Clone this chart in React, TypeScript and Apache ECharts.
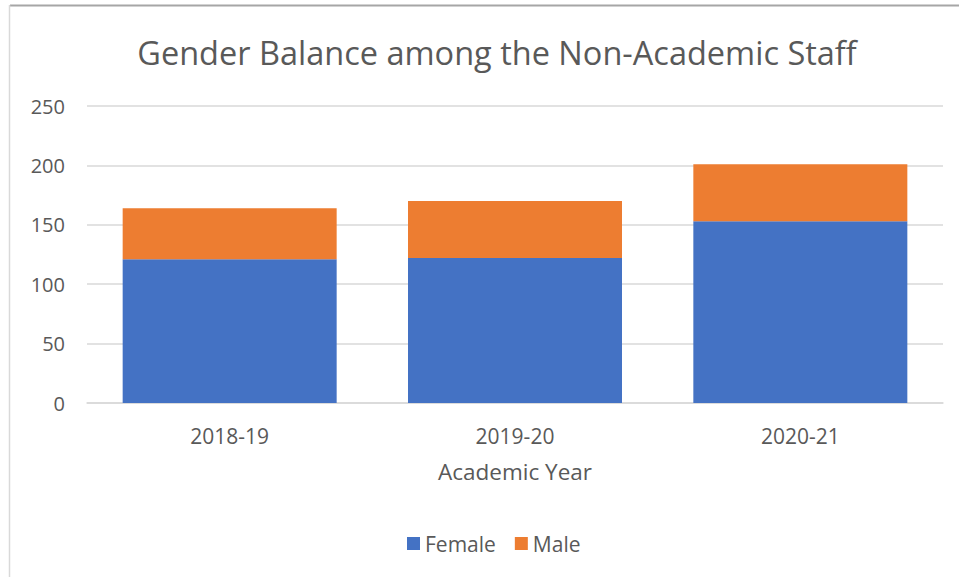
import React, { useEffect, useRef } from "react";
import * as echarts from "echarts";

const categories = ["2018-19", "2019-20", "2020-21"];
const femaleValues = [121, 122, 153];
const maleValues = [43, 48, 48];
const yTicks = { min: 0, max: 250, interval: 50 };

export default function App() {
  const ref = useRef<HTMLDivElement>(null);
  useEffect(() => {
    if (!ref.current) return;
    const chart = echarts.init(ref.current, null, { renderer: "svg" });
    const font = "'Open Sans', 'Liberation Sans', sans-serif";
    chart.setOption({
      animation: false,
      backgroundColor: "#ffffff",
      textStyle: { fontFamily: font },
      title: {
        text: "Gender Balance among the Non-Academic Staff",
        left: 492,
        textAlign: "center",
        top: 31,
        textStyle: { fontFamily: font, fontSize: 32.5, fontWeight: "normal", color: "#595959" },
      },
      graphic: [
        { type: "line", shape: { x1: 10, y1: 5.5, x2: 959, y2: 5.5 }, style: { stroke: "#a6a6a6", lineWidth: 2 } },
        { type: "line", shape: { x1: 9.5, y1: 5, x2: 9.5, y2: 577 }, style: { stroke: "#d9d9d9", lineWidth: 1.5 } },
      ],
      legend: {
        bottom: 18,
        left: 402,
        itemWidth: 13,
        itemHeight: 13,
        itemGap: 19,
        icon: "rect",
        textStyle: { fontFamily: font, fontSize: 21, color: "#595959", padding: [0, 0, 0, 0] },
        data: ["Female", "Male"],
      },
      grid: { left: 87, right: 16, top: 106, bottom: 174 },
      xAxis: {
        type: "category",
        data: categories,
        name: "Academic Year",
        nameLocation: "middle",
        nameGap: 57,
        nameTextStyle: { fontFamily: font, fontSize: 22.5, color: "#595959" },
        axisLine: { show: true, lineStyle: { color: "#d9d9d9", width: 1.5 } },
        axisTick: { show: false },
        axisLabel: { fontFamily: font, fontSize: 21, color: "#595959", margin: 22 },
      },
      yAxis: {
        type: "value",
        min: yTicks.min,
        max: yTicks.max,
        interval: yTicks.interval,
        axisLine: { show: false },
        axisTick: { show: false },
        axisLabel: { fontFamily: font, fontSize: 20, color: "#595959", margin: 22 },
        splitLine: { lineStyle: { color: "#d9d9d9", width: 1.5 } },
      },
      series: [
        {
          name: "Female",
          type: "bar",
          stack: "total",
          data: femaleValues,
          barCategoryGap: "25%",
          itemStyle: { color: "#4472C4" },
        },
        {
          name: "Male",
          type: "bar",
          stack: "total",
          data: maleValues,
          barCategoryGap: "25%",
          itemStyle: { color: "#ED7D31" },
        },
      ],
    });
    return () => chart.dispose();
  }, []);
  return (
    <div
      ref={ref}
      style={{ position: "fixed", left: 0, top: 0, width: 959, height: 577 }}
    />
  );
}
